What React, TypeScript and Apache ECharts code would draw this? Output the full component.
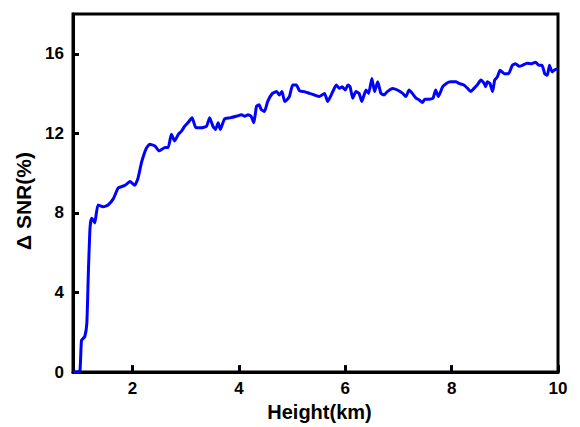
import React, { useEffect, useRef } from "react";
import * as echarts from "echarts";

const heightKm = [
  0.88, 0.95, 1.01, 1.04, 1.1, 1.14, 1.17, 1.2, 1.23, 1.27, 1.29, 1.35, 1.45, 1.54, 1.64, 1.73, 1.86, 1.95,
  2.04, 2.1, 2.17, 2.25, 2.32, 2.42, 2.5, 2.55, 2.61, 2.67, 2.73, 2.79, 2.86, 2.92, 2.98, 3.04, 3.12, 3.19,
  3.29, 3.39, 3.45, 3.51, 3.56, 3.61, 3.65, 3.73, 3.83, 3.95, 4.05, 4.11, 4.17, 4.23, 4.28, 4.33, 4.38, 4.42,
  4.48, 4.54, 4.63, 4.71, 4.76, 4.81, 4.86, 4.9, 4.95, 5.01, 5.08, 5.14, 5.23, 5.33, 5.42, 5.51, 5.61, 5.67,
  5.75, 5.83, 5.89, 5.94, 6.0, 6.05, 6.09, 6.14, 6.2, 6.26, 6.31, 6.39, 6.44, 6.5, 6.55, 6.61, 6.67, 6.73,
  6.79, 6.89, 6.98, 7.08, 7.14, 7.2, 7.26, 7.33, 7.39, 7.45, 7.5, 7.58, 7.65, 7.7, 7.75, 7.83, 7.9, 7.98,
  8.08, 8.14, 8.23, 8.3, 8.36, 8.42, 8.48, 8.55, 8.61, 8.64, 8.67, 8.72, 8.77, 8.81, 8.86, 8.91, 8.99, 9.07,
  9.14, 9.2, 9.27, 9.33, 9.42, 9.5, 9.58, 9.64, 9.7, 9.75, 9.8, 9.84, 9.89, 9.94, 10.0,
];

const deltaSnr = [
  0, 0, 0.05, 1.6, 1.78, 2.45, 5.1, 7.24, 7.73, 7.6, 7.5, 8.4, 8.31, 8.4, 8.72, 9.25, 9.39, 9.58,
  9.39, 9.72, 10.55, 11.2, 11.45, 11.37, 11.12, 11.2, 11.29, 11.29, 11.95, 11.62, 11.95, 12.11, 12.36, 12.53, 12.78, 12.28,
  12.28, 12.36, 12.78, 12.36, 12.2, 12.53, 12.2, 12.73, 12.78, 12.86, 12.94, 12.86, 12.94, 12.86, 12.53, 13.36, 13.44, 13.19,
  13.1, 13.6, 14.01, 14.1, 13.93, 14.1, 13.6, 13.68, 13.85, 14.43, 14.43, 14.14, 14.1, 14.01, 13.93, 13.85, 14.01, 13.6,
  14.01, 14.43, 14.26, 14.34, 14.18, 14.43, 14.34, 13.77, 14.1, 14.01, 13.6, 14.18, 14.01, 14.76, 14.1, 14.59, 14.01, 13.93,
  14.1, 14.26, 14.18, 14.01, 13.85, 14.18, 14.01, 13.77, 13.68, 13.55, 13.72, 13.72, 13.77, 14.18, 13.85, 14.34, 14.51, 14.59,
  14.59, 14.51, 14.43, 14.26, 14.1, 14.26, 14.43, 14.68, 14.51, 14.34, 14.59, 14.51, 14.1, 14.68, 14.84, 15.17, 15.0, 15.0,
  15.42, 15.5, 15.37, 15.42, 15.53, 15.5, 15.58, 15.42, 15.42, 15.0, 14.92, 15.42, 15.09, 15.2, 15.25,
];

const xTicks = [2, 4, 6, 8, 10];
const yTicks = [0, 4, 8, 12, 16];

export default function App() {
  const ref = useRef<HTMLDivElement>(null);
  useEffect(() => {
    if (!ref.current) return;
    const chart = echarts.init(ref.current, undefined, { renderer: "svg" });
    const font = "Liberation Sans, Arial, sans-serif";
    chart.setOption({
      animation: false,
      backgroundColor: "#ffffff",
      grid: {
        left: 73,
        right: 22,
        top: 14,
        bottom: 51,
        show: true,
        borderColor: "#000",
        borderWidth: 3,
        containLabel: false,
      },
      xAxis: {
        type: "value",
        min: 0.88,
        max: 10,
        name: "Height(km)",
        nameLocation: "middle",
        nameGap: 28,
        nameTextStyle: { fontFamily: font, fontWeight: "bold", fontSize: 20, color: "#000", padding: [0, 0, 0, 8] },
        axisLine: { show: true, onZero: false, lineStyle: { color: "#000", width: 3 } },
        axisTick: { show: true, inside: true, length: 7, lineStyle: { width: 3, color: "#000" }, customValues: xTicks },
        axisLabel: { fontFamily: font, fontWeight: "bold", fontSize: 17, color: "#000", margin: 8, customValues: xTicks },
        splitLine: { show: false },
      },
      yAxis: {
        type: "value",
        min: 0,
        max: 18,
        name: "\u0394 SNR(%)",
        nameLocation: "middle",
        nameGap: 38,
        nameTextStyle: { fontFamily: font, fontWeight: "bold", fontSize: 21, color: "#000", padding: [0, 16, 0, 0] },
        axisLine: { show: true, onZero: false, lineStyle: { color: "#000", width: 3 } },
        axisTick: { show: true, inside: true, length: 6, lineStyle: { width: 3, color: "#000" }, customValues: yTicks },
        axisLabel: { fontFamily: font, fontWeight: "bold", fontSize: 17, color: "#000", margin: 9, customValues: yTicks },
        splitLine: { show: false },
      },
      series: [
        {
          type: "line",
          data: heightKm.map((x, i) => [x, deltaSnr[i]]),
          showSymbol: false,
          symbol: "none",
          smooth: 0.15,
          lineStyle: { color: "#0000ff", width: 3 },
          clip: true,
        },
      ],
    });
    return () => chart.dispose();
  }, []);
  return (
    <div
      ref={ref}
      style={{ position: "fixed", left: 0, top: 0, width: 580, height: 427 }}
    />
  );
}
